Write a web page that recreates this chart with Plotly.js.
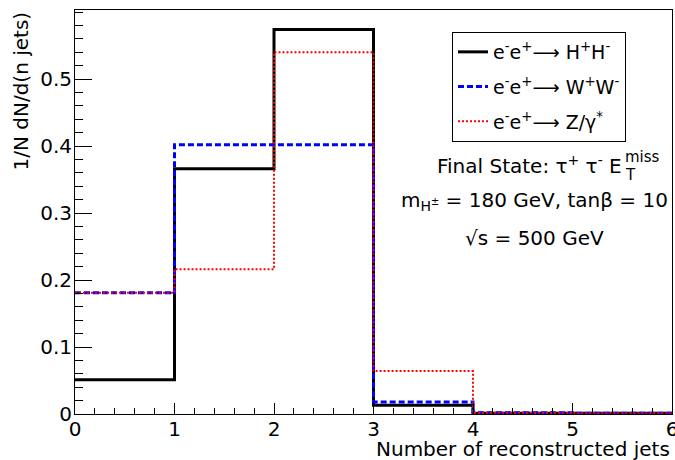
<!DOCTYPE html>
<html><head><meta charset="utf-8">
<script src="https://cdn.plot.ly/plotly-3.0.1.min.js"></script>
<style>html,body{margin:0;padding:0;background:#fff;}</style>
</head><body>
<div id="chart" style="width:675px;height:460px;"></div>
<script>
// Bin edges: number of reconstructed jets
const binEdges = [0, 1, 2, 3, 4, 5, 6];
// Normalized distributions per bin
const hhValues = [0.051, 0.366, 0.574, 0.013, 0.001, 0.001];
const wwValues = [0.181, 0.402, 0.402, 0.018, 0.002, 0.001];
const zValues  = [0.181, 0.216, 0.540, 0.064, 0.002, 0.001];
const xTickVals = [0, 1, 2, 3, 4, 5, 6];
const yTickVals = [0, 0.1, 0.2, 0.3, 0.4, 0.5];
const yTickText = ['0', '0.1', '0.2', '0.3', '0.4', '0.5'];
const legendNames = [
  'e<sup>-</sup>e<sup>+</sup>\u27f6 H<sup>+</sup>H<sup>-</sup>',
  'e<sup>-</sup>e<sup>+</sup>\u27f6 W<sup>+</sup>W<sup>-</sup>',
  'e<sup>-</sup>e<sup>+</sup>\u27f6 Z/\u03b3<sup>*</sup>'
];
const xTitle = 'Number of reconstructed jets';
const yTitle = '1/N dN/d(n jets)';
const infoLine1 = 'Final State: \u03c4<sup>+</sup> \u03c4<sup>-</sup> E';
const infoLine1Sup = 'miss';
const infoLine1Sub = 'T';
const infoLine2 = 'm<sub>H<sup>\u00b1</sup></sub> = 180 GeV, tan\u03b2 = 10';
const infoLine3 = '\u221as = 500 GeV';

function stepY(vals){ return vals.concat([vals[vals.length-1]]); }

const FONT = 'DejaVu Sans, Verdana, sans-serif';
const L = 75, T = 10, PW = 597, PH = 404;
function px(x){ return (x - L) / PW; }
function py(y){ return (T + PH - y) / PH; }

const traces = [
  {x: binEdges, y: stepY(hhValues), name: legendNames[0], legendgroup:'a', mode:'lines',
   line:{shape:'hv', color:'#000000', width:3}},
  {x: binEdges, y: stepY(wwValues), name: legendNames[1], legendgroup:'b', mode:'lines',
   line:{shape:'hv', color:'#0000ff', width:3, dash:'6px,3px'}},
  {x: binEdges, y: stepY(zValues), name: legendNames[2], legendgroup:'c', mode:'lines',
   line:{shape:'hv', color:'#ff0000', width:2, dash:'2px,2px'}}
];

const layout = {
  width: 675, height: 460,
  margin: {l: L, r: 675 - L - PW, t: T, b: 460 - T - PH},
  paper_bgcolor: '#fff', plot_bgcolor: '#fff',
  font: {family: FONT, color: '#000', size: 20},
  showlegend: true,
  legend: {
    x: px(452), y: py(32), xanchor: 'left', yanchor: 'top',
    bgcolor: '#fff', bordercolor: '#000', borderwidth: 1,
    font: {family: FONT, size: 19, color: '#000'},
    traceorder: 'grouped', tracegroupgap: 7, itemwidth: 30
  },
  xaxis: {
    range: [0, 6], tickmode: 'array', tickvals: xTickVals,
    ticks: 'inside', ticklen: 11, tickwidth: 1, tickcolor: '#000',
    minor: {dtick: 0.2, ticks: 'inside', ticklen: 6, tickcolor: '#000', showgrid: false},
    showline: true, linecolor: '#000', linewidth: 1, mirror: true,
    showgrid: false, zeroline: false, ticklabeloverflow: 'allow',
    ticklabelstandoff: -3,
    tickfont: {family: FONT, size: 20, color: '#000'}
  },
  yaxis: {
    range: [0, 0.603], tickmode: 'array', tickvals: yTickVals, ticktext: yTickText,
    ticks: 'inside', ticklen: 17, tickwidth: 1, tickcolor: '#000',
    minor: {dtick: 0.02, ticks: 'inside', ticklen: 8, tickcolor: '#000', showgrid: false},
    showline: true, linecolor: '#000', linewidth: 1, mirror: true,
    showgrid: false, zeroline: false, ticklabelstandoff: -2,
    tickfont: {family: FONT, size: 20, color: '#000'}
  },
  annotations: [
    {text: xTitle, xref: 'paper', yref: 'paper', x: 1.0, y: py(449), xanchor: 'right', yanchor: 'middle',
     showarrow: false, font: {family: FONT, size: 20, color: '#000'}},
    {text: yTitle, xref: 'paper', yref: 'paper', x: px(6), y: 1.0, xanchor: 'left', yanchor: 'top',
     textangle: -90, showarrow: false, font: {family: FONT, size: 20, color: '#000'}},
    {text: infoLine1, xref: 'paper', yref: 'paper', x: px(624), y: py(165), xanchor: 'right', yanchor: 'middle',
     showarrow: false, font: {family: FONT, size: 20, color: '#000'}},
    {text: infoLine1Sup, xref: 'paper', yref: 'paper', x: px(623), y: py(157), xanchor: 'left', yanchor: 'middle',
     showarrow: false, font: {family: FONT, size: 15, color: '#000'}},
    {text: infoLine1Sub, xref: 'paper', yref: 'paper', x: px(623), y: py(175), xanchor: 'left', yanchor: 'middle',
     showarrow: false, font: {family: FONT, size: 15, color: '#000'}},
    {text: infoLine2, xref: 'paper', yref: 'paper', x: px(534), y: py(201), xanchor: 'center', yanchor: 'middle',
     showarrow: false, font: {family: FONT, size: 20, color: '#000'}},
    {text: infoLine3, xref: 'paper', yref: 'paper', x: px(534), y: py(238), xanchor: 'center', yanchor: 'middle',
     showarrow: false, font: {family: FONT, size: 20, color: '#000'}}
  ]
};

Plotly.newPlot('chart', traces, layout, {displayModeBar: false, staticPlot: true});
</script>
</body></html>
